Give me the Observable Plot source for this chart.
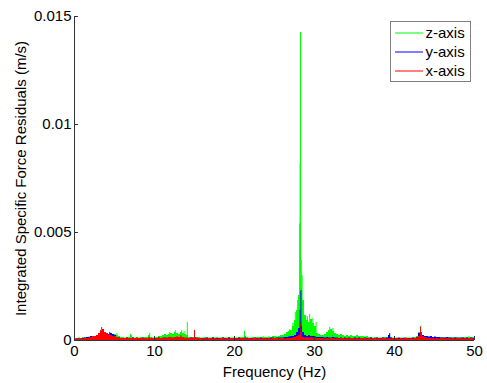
<!DOCTYPE html>
<html><head><meta charset="utf-8">
<script src="https://cdn.jsdelivr.net/npm/d3@7"></script>
<script src="https://cdn.jsdelivr.net/npm/@observablehq/plot@0.6"></script>
<style>
body{margin:0;background:#fff}
#wrap{position:relative;width:487px;height:383px;font-family:"Liberation Sans",Arial,sans-serif}
#legend{position:absolute;left:0;top:0}
</style>
</head><body><div id="wrap"></div>
<script>
// ---- data ----
const seriesNames = ["z-axis", "y-axis", "x-axis"];
const seriesColors = ["#00ff00", "#0000ff", "#ff0000"];
const xTicks = [0, 10, 20, 30, 40, 50];
const yTicks = [0, 0.005, 0.01, 0.015];
const yTickLabels = ["0", "0.005", "0.01", "0.015"];
const xLabel = "Frequency (Hz)";
const yLabel = "Integrated Specific Force Residuals (m/s)";
const freqStep = 0.25; // Hz between base samples, 0..50

// base spectra (m/s), one value every 0.25 Hz from 0 to 50 Hz
const zBase = [
.000093,.000093,.00012,.000093, .00014,.00012,.00014,.00016, .00016,.00019,.00014,.00019, .00019,.00023,.00019,.00023, .00023,.00019,.00023,.00028,
.00028,.00023,.00019,.00014, .00014,.00012,.00014,.00014, .00023,.00014,.00012,.00014, .00012,.00014,.00012,.00014, .00014,.00023,.00014,.00012,
.00014,.00014,.00019,.00019, .00023,.00028,.00023,.00028, .00032,.00028,.00037,.00032, .00028,.00037,.00032,.00028, .00023,.00014,.00014,.00014,
.00014,.00012,.00014,.00012, .00012,.00014,.00012,.00012, .00012,.00014,.00012,.00014, .00012,.00012,.00014,.00012, .00012,.00014,.00012,.00012,
.00012,.00012,.00014,.00014, .00014,.00019,.00014,.00012, .00012,.00014,.00012,.00014, .00014,.00014,.00016,.00014, .00014,.00016,.00014,.00019,
.00019,.00016,.00019,.00023, .00023,.00028,.00037,.00042, .00046,.00065,.00093,.00139, .00208,.00245,.00185,.00116, .00093,.00083,.00097,.00079,
.00065,.00032,.00028,.00023, .00023,.00028,.00037,.00046, .00051,.00042,.00032,.00028, .00023,.00028,.00023,.00019, .00023,.00019,.00023,.00019,
.00019,.00023,.00019,.00019, .00019,.00016,.00019,.00014, .00014,.00012,.00014,.00012, .00012,.00012,.00014,.00014, .00014,.00023,.00014,.00012,
.00012,.00012,.000093,.00012, .00012,.000093,.00012,.00012, .00012,.00012,.00014,.00019, .00037,.00023,.00019,.00014, .00014,.00012,.00014,.00012,
.00014,.00014,.00012,.00014, .00014,.00012,.00014,.00014, .00012,.00014,.00014,.00012, .00014,.00012,.00014,.00014, .00014,.00016,.00014,.00014,
.00014];
const yBase = [
.000046,.000069,.000069,.000069, .000093,.00012,.00014,.00014, .00019,.00016,.00014,.00016, .00019,.00016,.00023,.00028, .00032,.00028,.00032,.00028,
.00023,.00014,.00012,.000093, .000093,.000093,.00012,.000093, .000093,.00012,.000093,.000093, .000093,.000093,.00012,.000093, .000093,.00012,.000093,.000093,
.000093,.000093,.00012,.000093, .000093,.00012,.000093,.00012, .00012,.000093,.00012,.000093, .000093,.00012,.000093,.000093, .000093,.000093,.00012,.000093,
.000093,.00012,.000093,.000093, .000093,.000093,.00012,.000093, .000093,.00012,.000093,.000093, .000093,.000093,.00012,.000093, .000093,.00012,.000093,.000093,
.000093,.000093,.00012,.000093, .000093,.00012,.000093,.000093, .000093,.000093,.00012,.000093, .000093,.00012,.000093,.000093, .000093,.000093,.00012,.00012,
.000093,.00012,.00012,.00012, .00012,.00014,.00014,.00016, .00019,.00019,.00023,.00037, .00056,.00065,.00037,.00023, .00019,.00023,.00019,.00019,
.00016,.00014,.00014,.00014, .00014,.00012,.00014,.00012, .00012,.00014,.00012,.00012, .000093,.00012,.000093,.00012, .000093,.00012,.000093,.000093,
.00012,.000093,.00012,.000093, .000093,.00012,.000093,.000093, .00012,.000093,.000093,.00012, .000093,.000093,.00012,.000093, .00012,.00023,.00012,.000093,
.000093,.000093,.00012,.000093, .000093,.00012,.000093,.000093, .000093,.00012,.000093,.00014, .00032,.00037,.00023,.00019, .00019,.00016,.00019,.00014,
.00016,.00014,.00014,.00012, .00012,.00012,.00014,.00012, .00012,.000093,.00012,.00012, .000093,.00012,.00012,.000093, .00012,.000093,.00012,.000093,
.000093];
const xBase = [
.000069,.000069,.000069,.000069, .000069,.000093,.000093,.00012, .00014,.00016,.00019,.00023, .00032,.00042,.00051,.00037, .00032,.00028,.00023,.00019,
.00019,.00014,.00012,.000093, .000093,.000093,.00012,.000093, .000093,.000093,.000093,.00012, .000093,.000093,.000093,.000093, .000093,.00012,.000093,.000093,
.000093,.000093,.00012,.000093, .00012,.000093,.00012,.00014, .00014,.00012,.00014,.00016, .00014,.00016,.00014,.00012, .00012,.000093,.000093,.00012,
.00014,.000093,.000093,.000093, .000069,.000093,.000069,.000093, .000093,.000069,.000093,.000069, .000069,.000093,.000093,.000069, .000093,.000069,.000093,.000093,
.000069,.000093,.000069,.000093, .000093,.000093,.000069,.000093, .000069,.000093,.000093,.000069, .000093,.000069,.000093,.000093, .000069,.000093,.000069,.000093,
.000093,.000093,.000069,.000093, .000093,.000069,.000093,.000093, .000093,.00012,.00014,.00019, .00023,.00037,.00014,.00012, .00014,.00012,.00014,.00012,
.00012,.000093,.000093,.000093, .000093,.000069,.000093,.000069, .000093,.000093,.000069,.000093, .000069,.000093,.000093,.000069, .000093,.000069,.000093,.000093,
.000069,.000093,.000069,.000093, .000093,.000093,.000069,.000093, .000069,.000093,.000093,.000069, .000093,.000069,.000093,.000093, .000069,.000093,.000069,.000093,
.000093,.000093,.000069,.000093, .000069,.000093,.000093,.000069, .000093,.000069,.000093,.00012, .00019,.00037,.00019,.00014, .00012,.000093,.000093,.000093,
.000069,.000093,.000069,.000093, .000093,.000069,.000093,.000093, .000069,.000093,.000069,.000093, .000093,.000093,.000069,.000093, .000069,.000093,.000093,.000069,
.000069];

// narrow peaks (Hz, m/s)
const zSpikeFreq = [5.3, 7.0, 9.4, 11.9, 12.6, 13.4, 13.7, 14.1, 21.25, 26.9, 27.3, 27.6, 27.9, 28.15, 28.2, 28.25, 28.35, 28.45, 28.6, 29.1, 29.4, 29.8, 30.2, 31.9, 32.3, 39.4, 43.25];
const zSpikeVal  = [.00032, .00028, .00032, .00037, .00046, .00046, .00042, .00083, .00042, .00051, .00079, .0013, .00185, .0054, .0082, .01426, .0037, .003, .00139, .00111, .0012, .00102, .00083, .0006, .00056, .00028, .00065];
const ySpikeFreq = [4.4, 28.2, 28.3, 39.4, 43.25];
const ySpikeVal  = [.00037, .0014, .0023, .00032, .00046];
const xSpikeFreq = [3.25, 3.4, 3.6, 13.3, 15.0, 28.3, 43.25];
const xSpikeVal  = [.00046, .0006, .00051, .00023, .00046, .00079, .0006];

// ---- build tables ----
const bases = [zBase, yBase, xBase];
const spikeF = [zSpikeFreq, ySpikeFreq, xSpikeFreq];
const spikeV = [zSpikeVal, ySpikeVal, xSpikeVal];
const seriesMarks = [];
bases.forEach((b, s) => {
  const rows = b.map((v, i) => ({f: i * freqStep, v}));
  const sp = spikeF[s].map((f, i) => ({f, v: spikeV[s][i]}));
  seriesMarks.push(Plot.areaY(rows, {x: "f", y: "v", fill: seriesColors[s], curve: "step-after"}));
  seriesMarks.push(Plot.ruleX(sp, {x: "f", y1: 0, y2: "v", stroke: seriesColors[s], strokeWidth: 1}));
});

const chart = Plot.plot({
  width: 487, height: 383,
  marginLeft: 74, marginRight: 13, marginTop: 16, marginBottom: 43,
  style: {fontFamily: '"Liberation Sans", Arial, sans-serif', fontSize: "15px", color: "black", background: "white", overflow: "visible"},
  x: {domain: [0, 50]},
  y: {domain: [0, 0.015]},
  marks: [
    Plot.ruleY([0], {stroke: "#333"}),
    ...seriesMarks,
    Plot.ruleX([0], {stroke: "#333"}),
    Plot.axisX({ticks: xTicks, tickSize: -4, tickPadding: 9, stroke: "#333", label: xLabel, labelAnchor: "center", labelOffset: 36, labelArrow: "none"}),
    Plot.axisY({ticks: yTicks, tickSize: -4, tickPadding: 7, stroke: "#333", tickFormat: d => yTickLabels[yTicks.indexOf(d)], label: yLabel, labelAnchor: "center", labelOffset: 59, labelArrow: "none"})
  ]
});
const wrap = document.getElementById("wrap");
wrap.appendChild(chart);

// legend
const lg = d3.select(wrap).append("svg").attr("id", "legend").attr("width", 487).attr("height", 383)
  .style("pointer-events", "none");
lg.append("rect").attr("x", 390.5).attr("y", 21.5).attr("width", 80).attr("height", 60)
  .attr("fill", "white").attr("stroke", "#808080");
seriesNames.forEach((n, i) => {
  const cy = 33 + i * 19;
  lg.append("line").attr("x1", 395).attr("x2", 423).attr("y1", cy).attr("y2", cy)
    .attr("stroke", seriesColors[i]).attr("stroke-width", 1);
  lg.append("text").attr("x", 425.5).attr("y", cy + 5).text(n)
    .attr("font-family", '"Liberation Sans", Arial, sans-serif').attr("font-size", 15).attr("fill", "black");
});
</script>
</body></html>
